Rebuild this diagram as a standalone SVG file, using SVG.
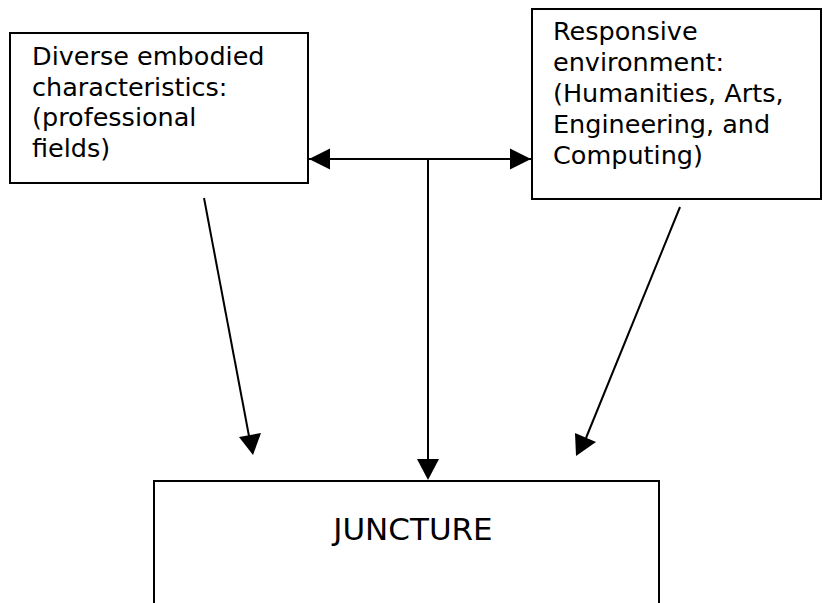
<svg xmlns="http://www.w3.org/2000/svg" width="823" height="603" viewBox="0 0 823 603">
<defs>
<style>
.box{fill:#fff;stroke:#000;stroke-width:2}
.t{font-family:"DejaVu Sans",Verdana,sans-serif;font-size:25.5px;fill:#000}
.c{stroke:#000;stroke-width:2;fill:none}
.ah{fill:#000}
</style>
</defs>
<rect width="823" height="603" fill="#fff"/>
<g id="left">
<rect class="box" x="10" y="33" width="298" height="150"/>
<text class="t" x="32" y="65">Diverse embodied</text>
<text class="t" x="32" y="96">characteristics:</text>
<text class="t" x="32" y="126">(professional</text>
<text class="t" x="32" y="157">fields)</text>
</g>
<g id="right">
<rect class="box" x="532" y="9" width="289" height="190"/>
<text class="t" x="553" y="40">Responsive</text>
<text class="t" x="553" y="71">environment:</text>
<text class="t" x="553" y="102">(Humanities, Arts,</text>
<text class="t" x="553" y="133">Engineering, and</text>
<text class="t" x="553" y="164">Computing)</text>
</g>
<g id="juncture">
<rect class="box" x="154" y="481" width="505" height="140"/>
<text class="t" x="413" y="540" text-anchor="middle" style="font-size:31px">JUNCTURE</text>
</g>
<g id="connectors">
<line class="c" x1="309" y1="159" x2="531" y2="159"/>
<path class="ah" d="M309,159 L330,148.5 L330,169.5 z"/>
<path class="ah" d="M531,159 L510,148.5 L510,169.5 z"/>
<line class="c" x1="428" y1="159" x2="428" y2="462"/>
<path class="ah" d="M428,480 L417,459 L439,459 z"/>
<line class="c" x1="204" y1="198" x2="249" y2="436"/>
<path class="ah" d="M253,455 L239,437 L261,433 z"/>
<line class="c" x1="680" y1="207" x2="586" y2="438"/>
<path class="ah" d="M576,456 L575,433 L596,442 z"/>
</g>
</svg>
